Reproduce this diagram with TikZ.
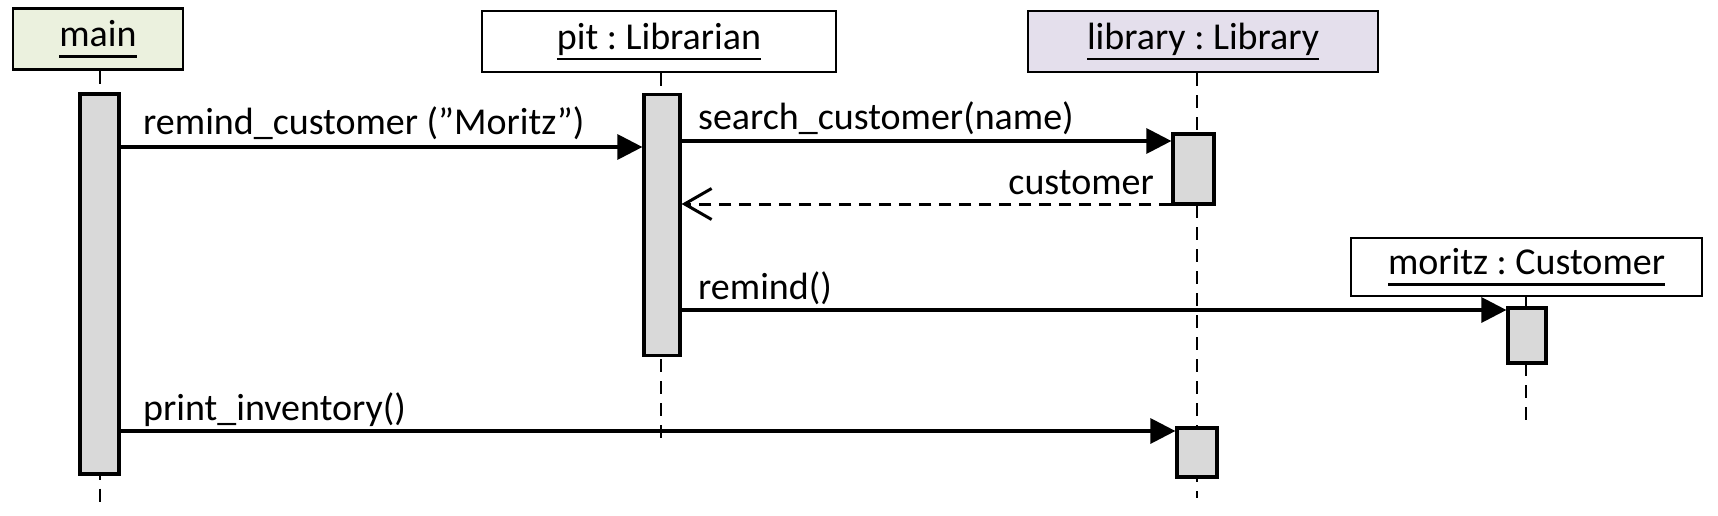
\documentclass[tikz,border=0pt]{standalone}
\usepackage{fontspec}
\setmainfont{Carlito}
\usetikzlibrary{arrows.meta}
\definecolor{mainfill}{HTML}{EBF1DE}
\definecolor{libfill}{HTML}{E4DFEC}
\definecolor{actfill}{HTML}{D9D9D9}
\frenchspacing
\newcommand\myul[1]{\leavevmode\setbox0\hbox{#1}\rlap{\rule[-11pt]{\wd0}{2.4pt}}\box0}
\begin{document}
\begin{tikzpicture}[x=1pt,y=-1pt,
  every node/.style={font=\fontsize{38}{46}\selectfont},
  header/.style={draw, line width=2.4pt, inner sep=0pt, minimum height=61pt},
  act/.style={draw, line width=3.2pt, fill=actfill, inner sep=0pt, minimum width=37pt},
  lifeline/.style={line width=2.3pt, dash pattern=on 13pt off 9pt},
  msg/.style={line width=3.2pt, -{Triangle[length=25pt,width=25pt]}},
  ret/.style={line width=3pt, dash pattern=on 12pt off 8pt, -{Straight Barb[length=27pt,width=31pt,line width=3pt]}},
  lbl/.style={inner sep=0pt}]
\useasboundingbox (0,0) rectangle (1718,516);
% headers
\node[header, fill=mainfill, minimum width=170pt] (main) at (98,39) {\myul{main}};
\node[header, fill=white, minimum width=354pt] (pit) at (659,41.5) {\myul{pit : Librarian}};
\node[header, fill=libfill, minimum width=350pt] (lib) at (1203,41.5) {\myul{library : Library}};
\node[header, fill=white, minimum width=351pt, minimum height=58pt] (mor) at (1526.5,267) {\myul{moritz : Customer}};
% lifeline end points
\coordinate (mainend) at (100,506);
\coordinate (pitend) at (661,444);
\coordinate (libend) at (1197,498);
\coordinate (morend) at (1526,427);
\draw[lifeline] (main.south -| mainend) -- (mainend);
\draw[lifeline] (pit.south -| pitend) -- (pitend);
\draw[lifeline] (lib.south -| libend) -- (libend);
\draw[lifeline] (mor.south -| morend) -- (morend);
% activations
\node[act, minimum height=380pt, minimum width=39pt] (mainact) at (99.5,284) {};
\node[act, minimum height=261pt, minimum width=36pt] (pitact) at (662,225) {};
\node[act, minimum height=70pt, minimum width=41pt] (libact1) at (1193.5,169) {};
\node[act, minimum height=49pt, minimum width=40pt] (libact2) at (1197,452.5) {};
\node[act, minimum height=55pt, minimum width=38pt] (moract) at (1527,335.5) {};
% message rows
\coordinate (y1) at (0,147);
\coordinate (y2) at (0,141);
\coordinate (y3) at (0,204);
\coordinate (y4) at (0,310);
\coordinate (y5) at (0,431);
\draw[msg] (mainact.east |- y1) -- (pitact.west |- y1);
\draw[msg] (pitact.east |- y2) -- (libact1.west |- y2);
\draw[ret] (libact1.west |- y3) -- (pitact.east |- y3);
\draw[msg] (pitact.east |- y4) -- (moract.west |- y4);
\draw[msg] (mainact.east |- y5) -- (libact2.west |- y5);
% labels
\node[lbl, anchor=base west] (l1) at (143,135) {remind\_customer (”Moritz”)};
\node[lbl, anchor=base west] (l2) at (698,129) {search\_customer(name)};
\node[lbl, anchor=base east] (l3) at (1154,194) {customer};
\node[lbl, anchor=base west] (l4) at (698,299) {remind()};
\node[lbl, anchor=base west] (l5) at (143,420) {print\_inventory()};
\end{tikzpicture}
\end{document}
